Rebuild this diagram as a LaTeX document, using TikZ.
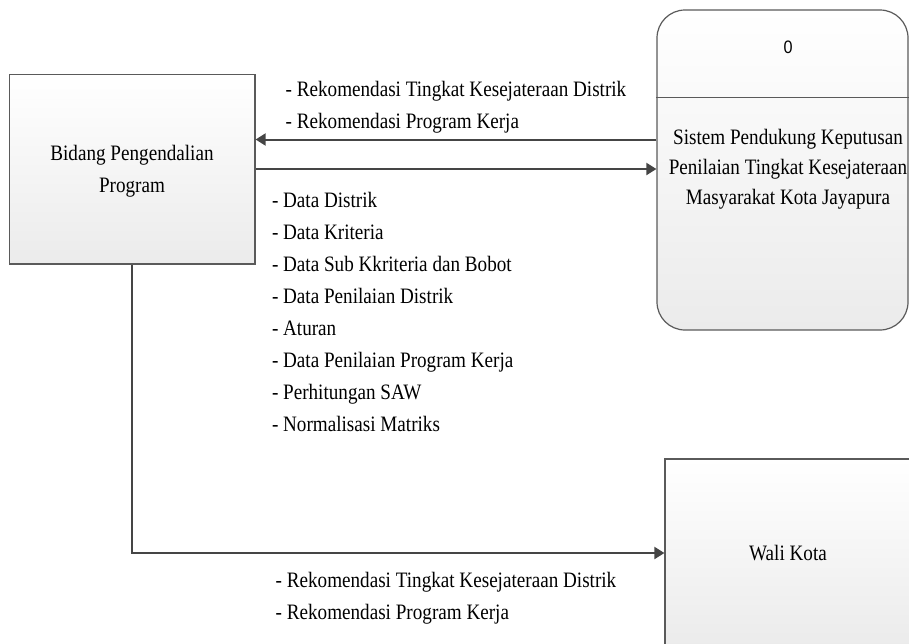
\documentclass[tikz,border=0pt]{standalone}
\usepackage{fontspec}
\setmainfont{Liberation Serif}[FakeStretch=0.87]
\newfontfamily\numfont{Liberation Sans}[FakeStretch=0.9]
\usetikzlibrary{arrows.meta}
\definecolor{edgegray}{HTML}{5A5A5A}
\definecolor{linegray}{HTML}{454545}
\definecolor{boxbot}{HTML}{EBEBEB}
\begin{document}
\begin{tikzpicture}[x=1pt,y=-1pt,
  box/.style={draw=edgegray, line width=1.2pt, top color=white, bottom color=boxbot, inner sep=0pt},
  flow/.style={draw=linegray, line width=2pt, -{Triangle[length=10pt,width=12pt]}},
  lbl/.style={font=\fontsize{22}{30}\selectfont, inner sep=0pt, anchor=base west},
  ctr/.style={font=\fontsize{22}{30}\selectfont, inner sep=0pt, anchor=base},
]
\useasboundingbox (0,0) rectangle (909,643);
\clip (0,0) rectangle (909,643);

% boxes
\node[box, minimum width=245.7pt, minimum height=189.3pt] (bidang) at (132.15,169.35) {};
\node[box, rounded corners=28pt, minimum width=251pt, minimum height=320pt] (proc) at (782.5,170) {};
\draw[edgegray, line width=1.2pt] (proc.west |- 0,97.7) -- (proc.east |- 0,97.7);
\node[box, minimum width=246pt, minimum height=188pt] (wali) at (788,553) {};

% box texts
\node[ctr] (bidangA) at (132,160.7) {Bidang Pengendalian};
\node[ctr] (bidangB) at (132,192) {Program};
\node[ctr, font=\numfont\fontsize{18}{20}\selectfont] (zero) at (788,53) {0};
\node[ctr] (procA) at (788,144) {Sistem Pendukung Keputusan};
\node[ctr] (procB) at (788,174) {Penilaian Tingkat Kesejateraan};
\node[ctr] (procC) at (788,204) {Masyarakat Kota Jayapura};
\node[ctr] (waliT) at (788,560.7) {Wali Kota};

% connectors
\draw[flow] (proc.west |- 0,139.5) -- (bidang.east |- 0,139.5);
\draw[flow] (bidang.east |- 0,169) -- (proc.west |- 0,169);
\draw[flow] (bidang.south) -- (bidang.south |- wali.west) -- (wali.west);

% labels of flows
\node[lbl] (topA) at (285.5,96.5) {- Rekomendasi Tingkat Kesejateraan Distrik};
\node[lbl] (topB) at (285.5,128.3) {- Rekomendasi Program Kerja};

\foreach \t [count=\i from 0] in {Data Distrik, Data Kriteria, Data Sub Kkriteria dan Bobot, Data Penilaian Distrik, Aturan, Data Penilaian Program Kerja, Perhitungan SAW, Normalisasi Matriks}
  \node[lbl] (list\i) at (271.8,207+32.1*\i) {- \t};

\node[lbl] (botA) at (275.5,587) {- Rekomendasi Tingkat Kesejateraan Distrik};
\node[lbl] (botB) at (275.5,619) {- Rekomendasi Program Kerja};
\end{tikzpicture}
\end{document}
